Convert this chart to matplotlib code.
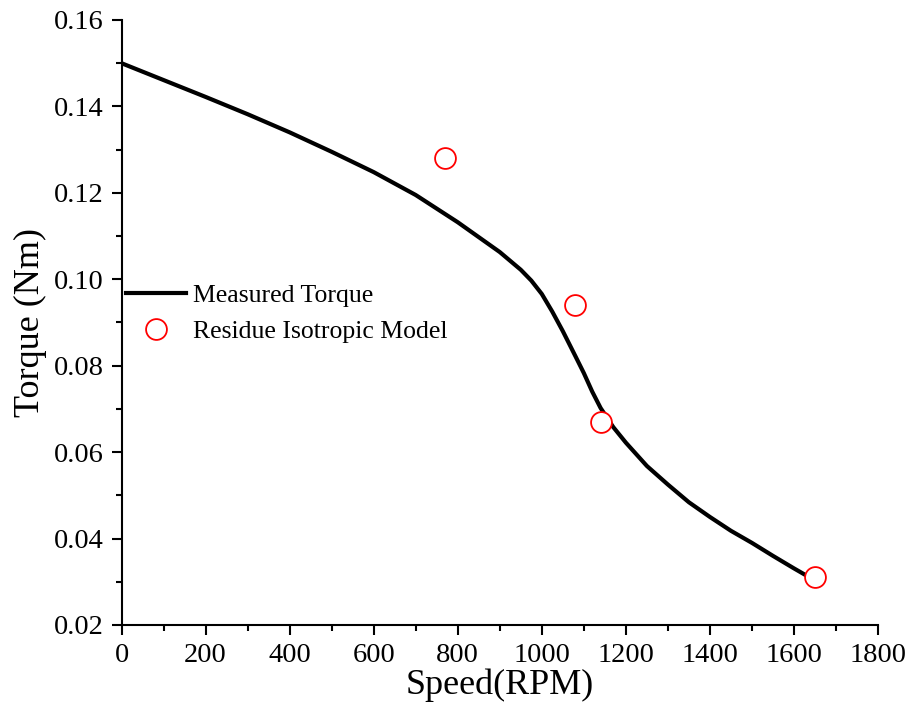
import matplotlib.pyplot as plt
from matplotlib.ticker import MultipleLocator

plt.rcParams['font.family'] = ['Liberation Serif', 'DejaVu Serif']

# measured torque curve
speed = [0, 100, 200, 300, 400, 500, 600, 700, 800, 900, 950, 975, 1000,
         1025, 1050, 1080, 1100, 1120, 1140, 1170, 1200, 1250, 1300, 1350,
         1400, 1450, 1500, 1550, 1600, 1650]
torque = [0.1500, 0.1461, 0.1422, 0.1382, 0.1340, 0.1295, 0.1248, 0.1195,
          0.1132, 0.1063, 0.1022, 0.0997, 0.0966, 0.0925, 0.0880, 0.0822,
          0.0783, 0.0740, 0.0702, 0.0658, 0.0622, 0.0568, 0.0525, 0.0484,
          0.0450, 0.0418, 0.0390, 0.0360, 0.0331, 0.0303]

# residue isotropic model points
model_speed = [769, 1080, 1140, 1649]
model_torque = [0.1281, 0.0940, 0.0670, 0.0311]

fig = plt.figure(figsize=(9.09, 7.09), dpi=100)
ax = fig.add_axes([0.1337, 0.1185, 0.8322, 0.8533])

ax.plot(speed, torque, color='black', lw=3, label='Measured Torque',
        solid_joinstyle='round', zorder=2)
ax.plot(model_speed, model_torque, ls='none', marker='o', ms=15,
        mfc='white', mec='red', mew=1.3, label='Residue Isotropic Model', zorder=3)

ax.set_xlim(0, 1800)
ax.set_ylim(0.02, 0.16)
ax.xaxis.set_major_locator(MultipleLocator(200))
ax.xaxis.set_minor_locator(MultipleLocator(100))
ax.yaxis.set_major_locator(MultipleLocator(0.02))
ax.yaxis.set_minor_locator(MultipleLocator(0.01))
ax.yaxis.set_major_formatter(plt.FormatStrFormatter('%.2f'))

for s in ['top', 'right']:
    ax.spines[s].set_visible(False)
for s in ['left', 'bottom']:
    ax.spines[s].set_linewidth(1.5)

ax.tick_params(which='major', direction='out', length=7, width=1.5, labelsize=20.5, pad=6)
ax.tick_params(which='minor', direction='out', length=4.5, width=1.5)

ax.set_xlabel('Speed(RPM)', fontsize=26, labelpad=0)
ax.set_ylabel('Torque (Nm)', fontsize=26, labelpad=5)

ax.legend(loc='center left', bbox_to_anchor=(0.006, 0.515), frameon=False,
          fontsize=18.5, borderpad=0, borderaxespad=0, handlelength=2.35,
          handletextpad=0.25, labelspacing=0.5)

fig.savefig('out.png', dpi=100)
